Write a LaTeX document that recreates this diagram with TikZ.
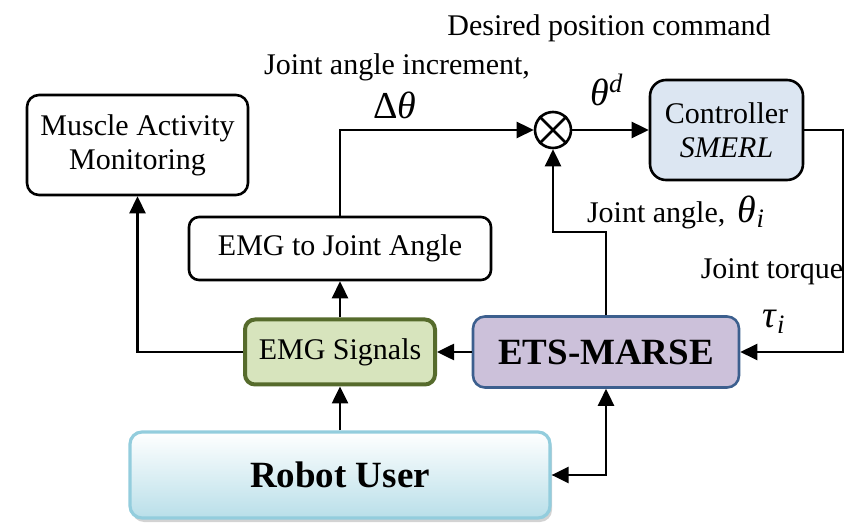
\documentclass[tikz,border=0pt]{standalone}
\usepackage{fontspec}
\setmainfont{Liberation Serif}
\usetikzlibrary{arrows.meta,positioning,calc,shadows}
\definecolor{emgfill}{HTML}{D7E4BD}
\definecolor{emgline}{HTML}{566B2C}
\definecolor{etsfill}{HTML}{CCC1DA}
\definecolor{etsline}{HTML}{3C5F8E}
\definecolor{ctrlfill}{HTML}{DCE6F2}
\definecolor{userline}{HTML}{93CDDD}
\definecolor{userfill}{HTML}{B9DFE9}
\tikzset{
    block/.style={rectangle, draw, line width=1.3pt, rounded corners=6pt, align=center, font=\fontsize{15}{17}\selectfont},
    emgbox/.style={block, fill=emgfill, draw=emgline, line width=2pt, rounded corners=5pt},
    etsbox/.style={block, fill=etsfill, draw=etsline, line width=1.3pt, font=\fontsize{18.5}{20}\selectfont\bfseries},
    ctrlbox/.style={block, fill=ctrlfill, rounded corners=8pt},
    userbox/.style={block, draw=userline, line width=1.6pt, top color=white, bottom color=userfill, font=\fontsize{18.5}{20}\selectfont\bfseries, drop shadow={shadow xshift=1pt, shadow yshift=-2pt, opacity=0.35}},
    summer/.style={circle, draw, line width=1.3pt, minimum size=18pt, inner sep=0pt},
    flow/.style={-{Triangle[length=8.5pt,width=8pt]}, line width=1.3pt},
    lbl/.style={font=\fontsize{15}{17}\selectfont, inner sep=1pt},
    sym/.style={font=\fontsize{19}{21}\selectfont, inner sep=1pt},
}

\begin{document}
\begin{tikzpicture}[x=0.5pt, y=-0.5pt]
    \useasboundingbox (0,0) rectangle (866,528);
    % blocks
    \node[block, minimum width=110.5pt, minimum height=50pt] (musc) at (137.5,145) {Muscle Activity\\Monitoring};
    \node[block, minimum width=151pt, minimum height=31.5pt, rounded corners=5pt] (e2ja) at (340,248.5) {EMG to Joint Angle};
    \node[emgbox, minimum width=95pt, minimum height=32.5pt] (emg) at (340,352) {EMG Signals};
    \node[etsbox, minimum width=133pt, minimum height=35.5pt] (ets) at (606,352) {ETS-MARSE};
    \node[userbox, minimum width=210pt, minimum height=43pt] (user) at (340,475) {Robot User};
    \node[ctrlbox, minimum width=76.5pt, minimum height=50pt] (ctrl) at (726.5,130) {Controller\\\textit{SMERL}};
    \node[summer] (sum) at (553,130) {};
    \draw[line width=1.3pt] (sum.north west) -- (sum.south east) (sum.north east) -- (sum.south west);
    \coordinate (rt) at (843,130);
    \coordinate (jn) at (553,232);

    % connectors
    \draw[flow] (emg.west) -| (musc.south);
    \draw[flow] (emg.north) -- (e2ja.south);
    \draw[flow] (e2ja.north) |- (sum.west);
    \draw[flow] (sum.east) -- (ctrl.west);
    \draw[flow] (ctrl.east) -- (rt) |- (ets.east);
    \draw[flow] (ets.north) |- (jn) -- (sum.south);
    \draw[flow] (ets.west) -- (emg.east);
    \draw[flow] (user.north) -- (emg.south);
    \draw[{Triangle[length=8.5pt,width=8pt]}-{Triangle[length=8.5pt,width=8pt]}, line width=1.3pt] (user.east) -| (ets.south);

    % labels
    \node[lbl] (desired) at (609,28) {Desired position command};
    \node[lbl] (incr) at (397,67) {Joint angle increment,};
    \node[sym] (dtheta) at (395,105) {Δ\textit{θ}};
    \node[sym] (thd) at (607,90) {\textit{θ}\textsuperscript{\textit{d}}};
    \node[lbl] (jangle) at (676,212) {Joint angle,\, {\fontsize{19}{21}\selectfont\textit{θ}\textsubscript{\textit{i}}}};
    \node[lbl] (jtorque) at (772,272) {Joint torque};
    \node[sym] (tau) at (774,322) {\textit{τ}\textsubscript{\textit{i}}};
\end{tikzpicture}
\end{document}
